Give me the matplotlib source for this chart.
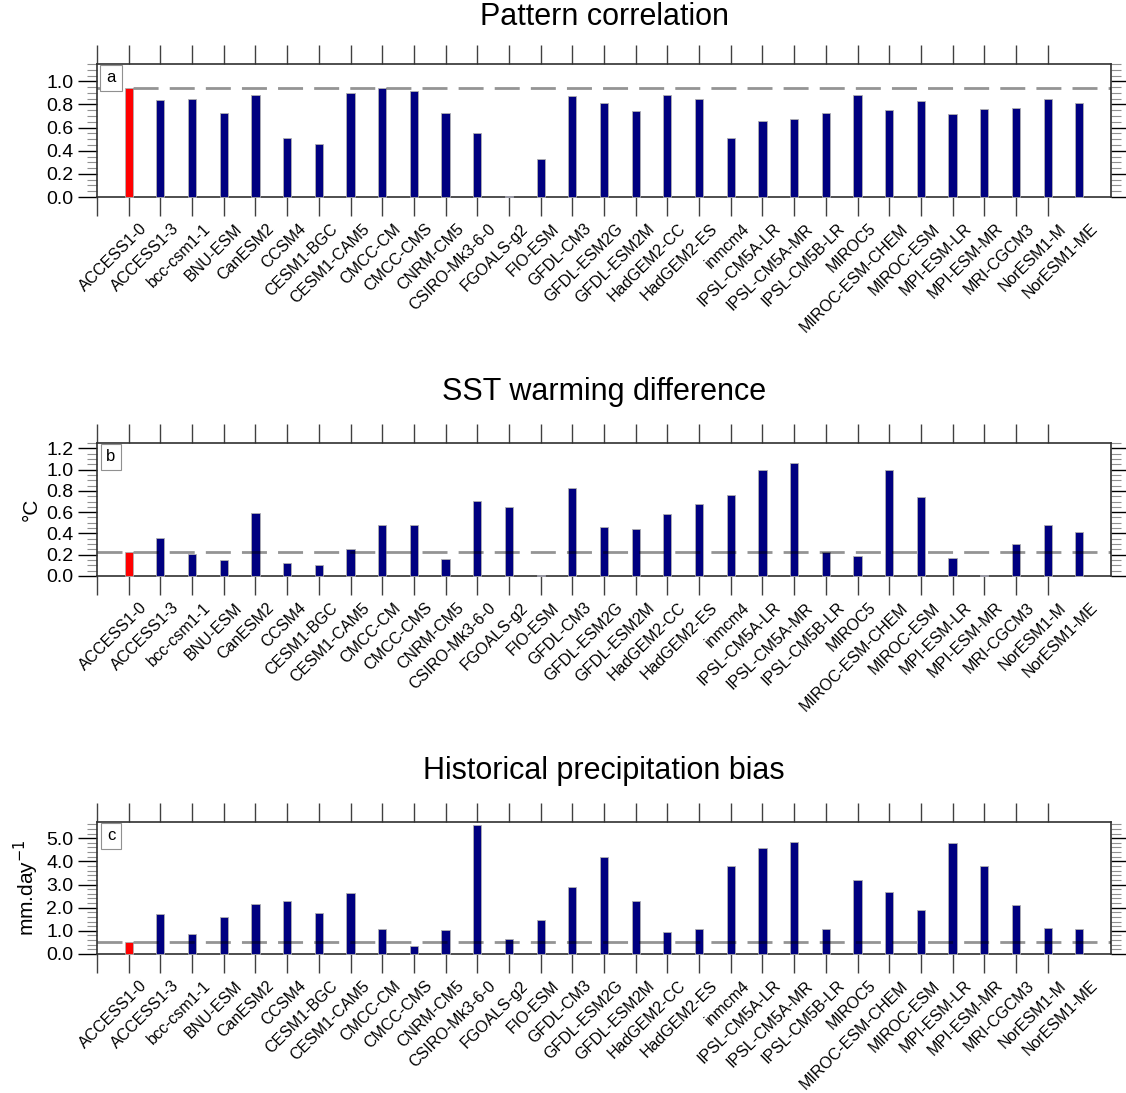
"""Bar summary of CMIP5 model skill: pattern correlation, SST warming
difference and historical precipitation bias.
"""

import numpy as np
import matplotlib as mpl
import matplotlib.pyplot as plt
from matplotlib.ticker import MultipleLocator, FormatStrFormatter
from matplotlib.transforms import ScaledTranslation, blended_transform_factory

mpl.rcParams['font.family'] = ['Liberation Sans', 'DejaVu Sans']

models = ['ACCESS1-0', 'ACCESS1-3', 'bcc-csm1-1', 'BNU-ESM', 'CanESM2',
          'CCSM4', 'CESM1-BGC', 'CESM1-CAM5', 'CMCC-CM', 'CMCC-CMS',
          'CNRM-CM5', 'CSIRO-Mk3-6-0', 'FGOALS-g2', 'FIO-ESM', 'GFDL-CM3',
          'GFDL-ESM2G', 'GFDL-ESM2M', 'HadGEM2-CC', 'HadGEM2-ES', 'inmcm4',
          'IPSL-CM5A-LR', 'IPSL-CM5A-MR', 'IPSL-CM5B-LR', 'MIROC5',
          'MIROC-ESM-CHEM', 'MIROC-ESM', 'MPI-ESM-LR', 'MPI-ESM-MR',
          'MRI-CGCM3', 'NorESM1-M', 'NorESM1-ME']

pattern_corr = [0.94, 0.84, 0.85, 0.73, 0.88, 0.51, 0.46, 0.90, 0.94, 0.92,
                0.73, 0.55, 0.01, 0.33, 0.87, 0.81, 0.74, 0.885, 0.85, 0.51,
                0.66, 0.675, 0.73, 0.88, 0.75, 0.83, 0.72, 0.76, 0.77, 0.85,
                0.81]

sst_diff = [0.225, 0.36, 0.205, 0.15, 0.59, 0.12, 0.10, 0.255, 0.48, 0.48,
            0.16, 0.705, 0.645, 0.01, 0.83, 0.46, 0.44, 0.58, 0.68, 0.76,
            1.0, 1.06, 0.225, 0.19, 1.0, 0.74, 0.17, 0.01, 0.30, 0.48, 0.41]

precip_bias = [0.53, 1.72, 0.88, 1.58, 2.16, 2.31, 1.78, 2.62, 1.07, 0.36,
               1.04, 5.55, 0.65, 1.46, 2.91, 4.20, 2.30, 0.93, 1.10, 3.81,
               4.58, 4.84, 1.09, 3.20, 2.68, 1.90, 4.80, 3.81, 2.12, 1.12,
               1.09]

titles = ['Pattern correlation', 'SST warming difference',
          'Historical precipitation bias']
panel_tags = ['a', 'b', 'c']
ylabels = ['', '\u00b0C', 'mm.day$^{-1}$']

# y-axis setup per panel: (ymax, major step, minor step)
yaxes = [(1.15, 0.2, 0.05), (1.25, 0.2, 0.05), (5.7, 1.0, 0.2)]

W, H = 1126, 1093
fig = plt.figure(figsize=(W / 100, H / 100), dpi=100)

# axes boxes in pixels: left, right, top, bottom
left, right = 97, 1111
tops = [64, 443, 822]
bottoms = [197, 576, 954]
title_y = [17, 392, 771]

x = np.arange(1, len(models) + 1)
colors = ['#ff0000'] + ['#000080'] * (len(models) - 1)

for k, data in enumerate([pattern_corr, sst_diff, precip_bias]):
    ax = fig.add_axes([left / W, 1 - bottoms[k] / H, (right - left) / W,
                       (bottoms[k] - tops[k]) / H])
    ax.bar(x, data, width=0.26, color=colors, edgecolor='#b0b0b0',
           linewidth=0.6, zorder=4, clip_on=False)
    ax.axhline(data[0], color='k', alpha=0.42, lw=2.0, dashes=(9, 4),
               zorder=5)

    ymax, major, minor = yaxes[k]
    ax.set_xlim(0, len(models) + 1)
    ax.set_ylim(0, ymax)
    ax.yaxis.set_major_locator(MultipleLocator(major))
    ax.yaxis.set_minor_locator(MultipleLocator(minor))
    ax.yaxis.set_major_formatter(FormatStrFormatter('%.1f'))
    ax.set_xticks(np.arange(0, len(models)))
    ax.set_xticklabels([])
    ax.tick_params(axis='x', which='major', direction='out', length=13.5,
                   width=1.0, color='#404040', top=True, bottom=True)
    ax.tick_params(axis='y', which='major', direction='out', length=14,
                   width=1.0, left=True, right=True, labelsize=14, pad=3)
    ax.tick_params(axis='y', which='minor', direction='out', length=7,
                   width=0.8, color='#909090', left=True, right=True)
    for s in ax.spines.values():
        s.set_linewidth(1.2)
        s.set_color('#303030')

    # rotated model names under the bars
    trans = blended_transform_factory(ax.transData, ax.transAxes)
    off = ScaledTranslation(11 / 100, -24 / 100, fig.dpi_scale_trans)
    for xi, name in zip(x, models):
        ax.text(xi, 0, name, rotation=45, ha='right', va='top',
                rotation_mode='anchor', fontsize=11.5,
                transform=trans + off)

    tag_off = ScaledTranslation(14 / 100, -14 / 100, fig.dpi_scale_trans)
    ax.text(0, 1, panel_tags[k], ha='center', va='center', fontsize=12,
            transform=ax.transAxes + tag_off, zorder=6,
            bbox=dict(boxstyle='square,pad=0.35', fc='white', ec='#909090',
                      lw=0.8))

    if ylabels[k]:
        ax.set_ylabel(ylabels[k], fontsize=15, labelpad=4)

    fig.text((left + right) / 2 / W, 1 - title_y[k] / H, titles[k],
             ha='center', va='center', fontsize=22)

plt.savefig('out.png', dpi=100)
